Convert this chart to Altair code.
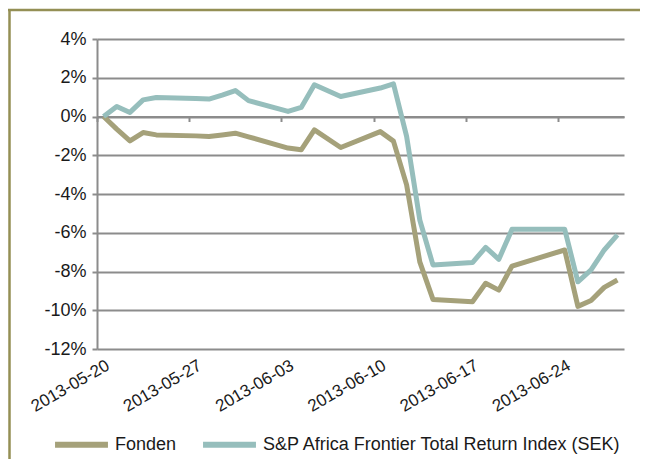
import altair as alt
import pandas as pd

dates = ["2013-05-20", "2013-05-21", "2013-05-22", "2013-05-23", "2013-05-24",
         "2013-05-27", "2013-05-28", "2013-05-29", "2013-05-30", "2013-05-31",
         "2013-06-03", "2013-06-04", "2013-06-05", "2013-06-07",
         "2013-06-10", "2013-06-11", "2013-06-12", "2013-06-13", "2013-06-14",
         "2013-06-17", "2013-06-18", "2013-06-19", "2013-06-20",
         "2013-06-24", "2013-06-25", "2013-06-26", "2013-06-27", "2013-06-28"]
fonden = [0.0, -0.65, -1.26, -0.83, -0.95,
          -1.00, -1.03, -0.95, -0.86, -1.05,
          -1.63, -1.72, -0.69, -1.60,
          -0.78, -1.27, -3.53, -7.50, -9.44,
          -9.56, -8.61, -8.96, -7.72,
          -6.89, -9.80, -9.50, -8.82, -8.44]
index_sek = [0.0, 0.52, 0.21, 0.86, 0.98,
             0.93, 0.90, 1.10, 1.34, 0.82,
             0.26, 0.47, 1.64, 1.03,
             1.47, 1.69, -1.03, -5.34, -7.66,
             -7.54, -6.75, -7.37, -5.82,
             -5.82, -8.53, -7.92, -6.89, -6.11]
series_names = ["Fonden", "S&P Africa Frontier Total Return Index (SEK)"]
series_colors = ["#A5A17A", "#96BEBC"]
y_ticks = [-12, -10, -8, -6, -4, -2, 0, 2, 4]
week_starts = [(5, 20), (5, 27), (6, 3), (6, 10), (6, 17), (6, 24)]

FONT = "Liberation Sans"
GRID = "#8C8C8C"
BORDER = "#948F55"

rows = []
for d, f, i in zip(dates, fonden, index_sek):
    rows.append({"date": d + "T12:00:00", "series": series_names[0], "value": f})
    rows.append({"date": d + "T12:00:00", "series": series_names[1], "value": i})
df = pd.DataFrame(rows)

tick_df = pd.DataFrame({"date": ["2013-%02d-%02dT00:00:00" % (m, d) for m, d in week_starts]})

x_scale = alt.Scale(domain=[alt.DateTime(year=2013, month=5, date=20),
                            alt.DateTime(year=2013, month=6, date=29)])
y_scale = alt.Scale(domain=[-12, 4], nice=False, zero=False)

label_axis = alt.Axis(
    values=[alt.DateTime(year=2013, month=m, date=d, hours=12) for m, d in week_starts],
    orient="bottom",
    format="%Y-%m-%d", labelAngle=-30, labelAlign="right", labelBaseline="top",
    labelPadding=8, labelFontSize=17, labelFont=FONT, labelColor="#1a1a1a",
    domain=False, ticks=False, grid=False, title=None, labelOverlap=False,
)
zero_axis = alt.Axis(
    values=[alt.DateTime(year=2013, month=m, date=d) for m, d in week_starts],
    orient="bottom", offset=-232.5, labels=False, ticks=True, tickSize=5,
    tickColor=GRID, tickWidth=2, domain=True, domainColor=GRID, domainWidth=2,
    grid=False, title=None,
)
y_axis = alt.Axis(
    values=y_ticks, labelExpr="datum.value + '%'", labelFontSize=18, labelFont=FONT,
    labelColor="#1a1a1a", labelPadding=6, tickSize=5, tickColor=GRID, tickWidth=2,
    domain=True, domainColor=GRID, domainWidth=2, grid=True, gridColor=GRID,
    gridWidth=1.8, title=None,
)

zero_layer = alt.Chart(tick_df).mark_point(opacity=0).encode(
    x=alt.X("date:T", scale=x_scale, axis=zero_axis),
    y=alt.value(0),
)

lines = alt.Chart(df).mark_line(strokeWidth=5, strokeJoin="round").encode(
    x=alt.X("date:T", scale=x_scale, axis=label_axis),
    y=alt.Y("value:Q", scale=y_scale, axis=y_axis),
    color=alt.Color("series:N", scale=alt.Scale(domain=series_names, range=series_colors),
                    sort=series_names,
                    legend=alt.Legend(orient="none", legendX=-45, legendY=376,
                                      direction="horizontal", title=None,
                                      symbolType="stroke", symbolSize=2800,
                                      symbolStrokeWidth=6, labelFontSize=18,
                                      labelFont=FONT, labelColor="#1a1a1a",
                                      labelOffset=4, columnPadding=14, labelLimit=600)),
    detail="series:N",
)

border_df = pd.DataFrame({"k": [0]})
border_left = alt.Chart(border_df).mark_rule(color=BORDER, strokeWidth=2.5).encode(
    x=alt.value(-87.5), y=alt.value(-29), y2=alt.value(440))
border_top = alt.Chart(border_df).mark_rule(color=BORDER, strokeWidth=2.5).encode(
    x=alt.value(-89), x2=alt.value(560), y=alt.value(-29))

chart = alt.layer(zero_layer, lines, border_left, border_top).resolve_axis(
    x="independent"
).properties(
    width=527, height=310,
    autosize=alt.AutoSizeParams(type="none"),
    padding={"left": 89, "top": 31, "right": 16, "bottom": 110},
).configure_view(stroke=None)

chart.save("out.html", embed_options={"renderer": "svg", "actions": False})
